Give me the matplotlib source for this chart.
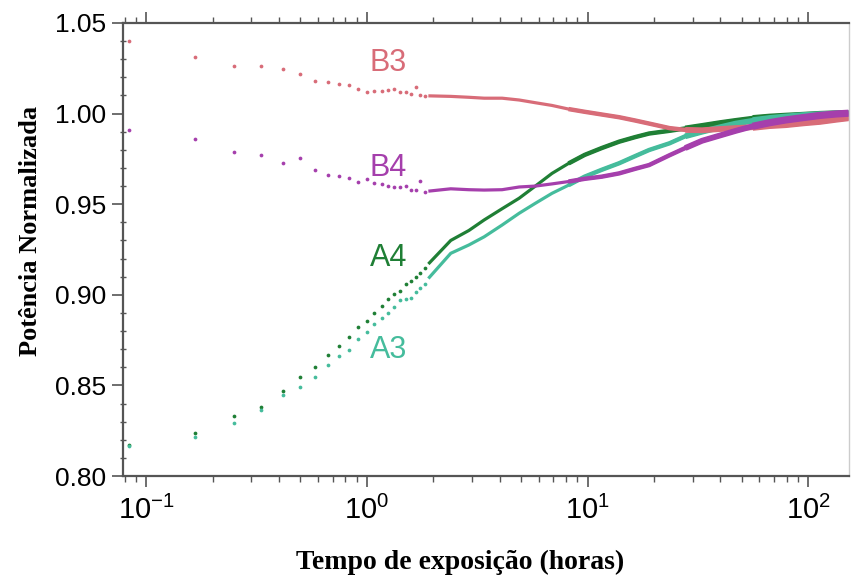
import numpy as np
import matplotlib
matplotlib.use('Agg')
import matplotlib.pyplot as plt
from matplotlib.ticker import FixedLocator, NullFormatter

plt.rcParams['mathtext.fontset'] = 'custom'
plt.rcParams['mathtext.rm'] = 'Liberation Sans'
plt.rcParams['mathtext.it'] = 'Liberation Sans'

# early readings, every 5 min (hours)
t_early = [0.0833, 0.1667, 0.25, 0.3333, 0.4167, 0.5, 0.5833, 0.6667, 0.75, 0.8333, 0.9167,
           1.0, 1.0833, 1.1667, 1.25, 1.3333, 1.4167, 1.5, 1.5833, 1.6667, 1.75, 1.8333]
b3_early = [1.040, 1.0314, 1.0264, 1.0263, 1.0244, 1.0219, 1.0180, 1.0173, 1.0162, 1.0160, 1.0136,
            1.0118, 1.0125, 1.0126, 1.0130, 1.0135, 1.0120, 1.0118, 1.0110, 1.0148, 1.0100, 1.0095]
b4_early = [0.991, 0.986, 0.979, 0.977, 0.9729, 0.9753, 0.9689, 0.9661, 0.9656, 0.9646, 0.9624,
            0.9637, 0.9619, 0.9611, 0.9600, 0.9597, 0.9597, 0.9600, 0.9578, 0.9578, 0.9630, 0.9570]
a4_early = [0.817, 0.8236, 0.8331, 0.8383, 0.8471, 0.8548, 0.8600, 0.8668, 0.8717, 0.8767, 0.8824,
            0.8853, 0.8900, 0.8936, 0.8978, 0.9003, 0.9023, 0.9060, 0.9076, 0.9100, 0.9120, 0.9150]
a3_early = [0.8165, 0.8217, 0.8290, 0.8364, 0.8447, 0.8493, 0.8548, 0.8613, 0.8665, 0.8698, 0.8757,
            0.8794, 0.8837, 0.8870, 0.8898, 0.8931, 0.8971, 0.8978, 0.8984, 0.9017, 0.9036, 0.9060]

# later readings (dense band), sampled
t_late = [1.9, 2.4, 2.9, 3.4, 4.1, 4.9, 5.8, 6.9, 8.2, 9.7, 11.6, 13.9, 16.4, 19.0, 23.5, 27.7,
          33.0, 40.0, 47.0, 56.0, 67.0, 79.0, 95.0, 113.0, 134.0, 152.0]
b3_late = [1.0098, 1.0095, 1.0090, 1.0085, 1.0085, 1.0075, 1.0060, 1.0045, 1.0025, 1.0010, 0.9995,
           0.9980, 0.9962, 0.9945, 0.9920, 0.9910, 0.9908, 0.9915, 0.9920, 0.9925, 0.9935, 0.9940,
           0.9950, 0.9958, 0.9970, 0.9978]
b4_late = [0.9572, 0.9585, 0.9580, 0.9578, 0.9580, 0.9595, 0.9600, 0.9612, 0.9625, 0.9640, 0.9652,
           0.9670, 0.9695, 0.9716, 0.9770, 0.9810, 0.9850, 0.9880, 0.9905, 0.9930, 0.9950, 0.9965,
           0.9978, 0.9990, 0.9998, 1.0002]
a4_late = [0.917, 0.930, 0.9355, 0.9413, 0.9475, 0.9533, 0.9600, 0.9670, 0.9725, 0.9772, 0.9810,
           0.9845, 0.9870, 0.9890, 0.9905, 0.9918, 0.9932, 0.9948, 0.9960, 0.9972, 0.9980, 0.9985,
           0.9990, 0.9995, 0.9998, 1.0000]
a3_late = [0.9090, 0.9229, 0.9275, 0.9320, 0.9385, 0.9450, 0.9505, 0.9560, 0.9605, 0.9652, 0.9690,
           0.9726, 0.9765, 0.9799, 0.9836, 0.9875, 0.9900, 0.9925, 0.9945, 0.9960, 0.9972, 0.9980,
           0.9988, 0.9993, 0.9997, 1.0000]

series = [
    ('A4', a4_early, a4_late, '#1f7f35', 0.9202),
    ('A3', a3_early, a3_late, '#45bc9c', 0.8693),
    ('B3', b3_early, b3_late, '#d86c78', 1.0281),
    ('B4', b4_early, b4_late, '#a53fac', 0.9700),
]

fig = plt.figure(figsize=(8.56, 5.82), dpi=100)
ax = fig.add_axes([0.1437, 0.1821, 0.8482, 0.7784])

t_late_arr = np.array(t_late)
# band gets wider (noisier) with time
band = [(0, 2.3), (8, 3.2), (25, 4.2), (50, 5.2)]
for name, early, late, col, ylab in series:
    ax.plot(t_early, early, 'o', ms=2.7, color=col, mec='none')
    late_arr = np.array(late)
    for tmin, lw in band:
        m = t_late_arr >= tmin
        ax.plot(t_late_arr[m], late_arr[m], '-', lw=lw, color=col, solid_capstyle='butt')
    ax.text(1.25, ylab, name, color=col, fontsize=22, family='Liberation Sans',
            ha='center', va='center')

ax.set_xscale('log')
ax.set_xlim(0.0786, 153)
ax.set_ylim(0.80, 1.05)
ax.set_yticks([0.80, 0.85, 0.90, 0.95, 1.00, 1.05])
ax.set_yticklabels(['0.80', '0.85', '0.90', '0.95', '1.00', '1.05'])
ax.yaxis.set_minor_locator(FixedLocator(np.arange(0.80, 1.05, 0.01)))
ax.set_xticks([0.1, 1, 10, 100])
ax.set_xticklabels([r'$10^{-1}$', r'$10^{0}$', r'$10^{1}$', r'$10^{2}$'])
ax.xaxis.set_minor_formatter(NullFormatter())

for lab in ax.get_yticklabels():
    lab.set_family('Liberation Sans')
    lab.set_fontsize(19)
for lab in ax.get_xticklabels():
    lab.set_family('Liberation Sans')
    lab.set_fontsize(21)

spine_col = '#555555'
for s in ['left', 'bottom', 'top']:
    ax.spines[s].set_color(spine_col)
    ax.spines[s].set_linewidth(1.6)
ax.spines['right'].set_color('#cccccc')
ax.spines['right'].set_linewidth(1.0)

ax.tick_params(axis='x', which='major', direction='out', length=8, width=1.2, color=spine_col,
               top=True, bottom=True, pad=6)
ax.tick_params(axis='x', which='minor', direction='out', length=4, width=1.0, color=spine_col,
               top=True, bottom=True)
ax.tick_params(axis='y', which='major', direction='out', length=8, width=1.2, color=spine_col,
               right=False, pad=4)
ax.tick_params(axis='y', which='minor', direction='inout', length=5, width=1.0, color=spine_col,
               right=False)

ax.set_xlabel('Tempo de exposição (horas)', family='Liberation Serif', fontweight='bold',
              fontsize=20)
ax.set_ylabel('Potência Normalizada', family='Liberation Serif', fontweight='bold',
              fontsize=19)
ax.xaxis.set_label_coords(0.464, -0.163)
ax.yaxis.set_label_coords(-0.112, 0.54)

fig.savefig('out.png', dpi=100)
